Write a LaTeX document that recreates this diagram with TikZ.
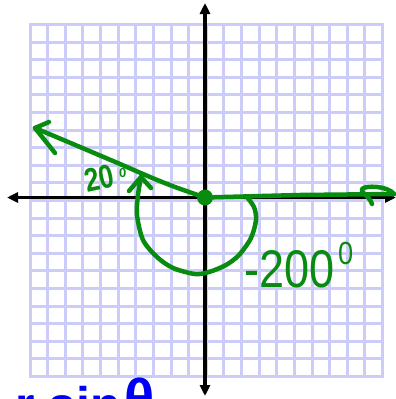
\documentclass[tikz,border=0pt]{standalone}
\usepackage{fontspec}
\setmainfont{Liberation Sans}
\usetikzlibrary{arrows.meta}
\definecolor{gridc}{RGB}{204,204,248}
\definecolor{hand}{RGB}{8,140,16}
\definecolor{ink}{RGB}{0,0,250}
\begin{document}
\begin{tikzpicture}[x=1pt,y=-1pt,
  gridline/.style={gridc,line width=3pt},
  axisline/.style={black,line width=3.5pt,{Triangle[length=11pt,width=10pt]}-{Triangle[length=11pt,width=10pt]}},
  pen/.style={hand,line width=4.5pt,line cap=round,line join=round},
  handtext/.style={text=hand,inner sep=0pt}]
\useasboundingbox (0,0) rectangle (396,399);
\begin{scope}
\clip (0,0) rectangle (396,399);
% grid
\foreach \k in {0,...,20}{
  \draw[gridline] ({30+17.63*\k},23) -- ({30+17.63*\k},378);
  \draw[gridline] (28.5,{24.5+17.6*\k}) -- (384,{24.5+17.6*\k});
}
% axes
\coordinate (O) at (205,197.5);
\coordinate (top) at (205,3);
\coordinate (bottom) at (205,396);
\coordinate (left) at (7,197.5);
\coordinate (right) at (396,197.5);
\draw[axisline] (top) -- (bottom);
\draw[axisline] (left) -- (right);
% initial side along positive x axis with hand-drawn tip
\coordinate (R) at (394,194);
\draw[pen] (O) -- (300,195) -- (R);
\draw[pen] (R) .. controls (388,186) and (366,185) .. (362,189)
           .. controls (360,193) and (369,195) .. (372,204);
% terminal side
\coordinate (T) at (35,128);
\draw[pen] plot[smooth] coordinates {(O) (175,187) (150,177) (120,164) (80,147) (T)};
\draw[pen] (49,122) -- (T) -- (55,153);
% -200 arc
\coordinate (A) at (141,177);
\draw[pen] plot[smooth] coordinates {(246,196) (254,207) (256,220) (251,238) (239,255) (226,265) (209,272) (195,274) (173,268) (157,257) (143,240) (137,215) (138,195) (A)};
\draw[pen] (129,191) -- (A) -- (151,188);
% origin dot
\fill[hand] (O) circle (8);
% labels
\node[handtext,anchor=base west,rotate=12] (l20) at (87,193) {\fontsize{33}{33}\selectfont\bfseries\scalebox{0.8}[1]{20}};
\node[handtext,anchor=base west] (l20d) at (119,177) {\fontsize{13}{13}\selectfont\bfseries 0};
\node[handtext,anchor=base west] (l200) at (244,287) {\fontsize{53}{53}\selectfont\scalebox{0.85}[1]{-200}};
\node[handtext,anchor=base west] (l200d) at (338,264) {\fontsize{32}{32}\selectfont\scalebox{0.85}[1]{0}};
% blue text cut by the bottom edge
\node[text=ink,inner sep=0pt,anchor=base west] (rsin) at (15,422) {\fontsize{50}{50}\selectfont\bfseries r sin};
\node[text=ink,inner sep=0pt,anchor=base west] (theta) at (124,418) {\fontsize{56}{56}\selectfont\bfseries θ};
\end{scope}
\end{tikzpicture}
\end{document}
